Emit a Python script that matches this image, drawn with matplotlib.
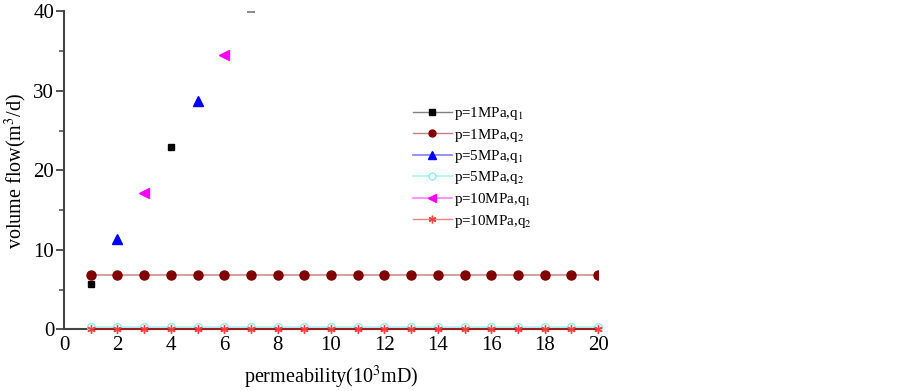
import matplotlib
matplotlib.use('Agg')
import matplotlib.pyplot as plt
from matplotlib.lines import Line2D
from matplotlib.ticker import MultipleLocator
import numpy as np

plt.rcParams['font.family'] = ['Liberation Serif', 'DejaVu Serif']
plt.rcParams['mathtext.fontset'] = 'stix'

# permeability values for the constant q2 series
k = np.arange(1, 21)

# q1 series (scattered single points)
k_p1_q1 = [1, 4]
q_p1_q1 = [5.7, 23.0]
k_p5_q1 = [2, 5]
q_p5_q1 = [11.4, 28.8]
k_p10_q1 = [3, 6]
q_p10_q1 = [17.2, 34.5]
# stray clipped mark at the top edge
k_edge = [7]
q_edge = [39.9]

# q2 series (flat)
q_p1_q2 = [6.9] * 20
q_p5_q2 = [0.3] * 20
q_p10_q2 = [0.05] * 20

labels = ['p=1MPa,q$_1$', 'p=1MPa,q$_2$', 'p=5MPa,q$_1$',
          'p=5MPa,q$_2$', 'p=10MPa,q$_1$', 'p=10MPa,q$_2$']

ASTER = (6, 2, 0)

fig = plt.figure(figsize=(9.03, 3.91), dpi=100)
ax = fig.add_axes([0.0709, 0.1573, 0.5914, 0.8133])

ax.plot(k, q_p5_q2, color='#aaf4f4', lw=1.2, marker='o', ms=5.5, mfc='white',
        mec='#88eeee', clip_on=False, zorder=3)
ax.plot(k, q_p10_q2, color='#a02020', lw=1.5, marker=ASTER, ms=6, mew=1,
        mec='#ff4040', clip_on=False, zorder=4)
ax.plot(k, q_p1_q2, color='#d4a0a0', lw=1.5, marker='o', ms=6.5,
        mfc='#800000', mec='#800000', zorder=3)

ax.plot(k_p1_q1, q_p1_q1, ls='none', marker='s', ms=5, color='black')
ax.plot(k_p5_q1, q_p5_q1, ls='none', marker='^', ms=7, color='#0000ff')
ax.plot(k_p10_q1, q_p10_q1, ls='none', marker='<', ms=7, color='#ff00ff')
ax.plot(k_edge, q_edge, ls='none', marker='_', ms=6, mew=1.2, color='#777777')

ax.set_xlim(0, 20)
ax.set_ylim(0, 40)
ax.xaxis.set_major_locator(MultipleLocator(2))
ax.yaxis.set_major_locator(MultipleLocator(10))
ax.yaxis.set_minor_locator(MultipleLocator(5))
ax.tick_params(axis='x', length=0, labelsize=15, pad=5)
ax.tick_params(axis='y', which='major', length=6, width=1.3, labelsize=15,
               color='#444444', pad=1)
ax.tick_params(axis='y', which='minor', length=3.5, width=1.1, color='#444444')
for s in ['top', 'right']:
    ax.spines[s].set_visible(False)
for s in ['left', 'bottom']:
    ax.spines[s].set_color('#444444')
    ax.spines[s].set_linewidth(1.5)

ax.set_xlabel('permeability(10$^{3}$mD)', fontsize=14.5, labelpad=6)
ax.set_ylabel('volume flow(m$^3$/d)', fontsize=14.5, labelpad=3)

handles = [
    Line2D([], [], color='#808080', lw=1, marker='s', ms=4.5, mfc='black', mec='black'),
    Line2D([], [], color='#c08080', lw=1, marker='o', ms=5, mfc='#800000', mec='#800000'),
    Line2D([], [], color='#8080ff', lw=1.2, marker='^', ms=5.5, mfc='#0000ff', mec='#0000ff'),
    Line2D([], [], color='#aaf4f4', lw=1.2, marker='o', ms=5, mfc='white', mec='#88eeee'),
    Line2D([], [], color='#ff80ff', lw=1.2, marker='<', ms=5.5, mfc='#ff00ff', mec='#ff00ff'),
    Line2D([], [], color='#ff8080', lw=1, marker=ASTER, ms=5.5, mew=1, mec='#ff4040'),
]
fig.legend(handles, labels, loc='upper left', bbox_to_anchor=(413 / 903, 1 - 105 / 391),
           frameon=False, fontsize=10.8, borderpad=0, borderaxespad=0,
           handlelength=2.6, handletextpad=0.15, labelspacing=0.3)

fig.savefig('out.png', dpi=100)
